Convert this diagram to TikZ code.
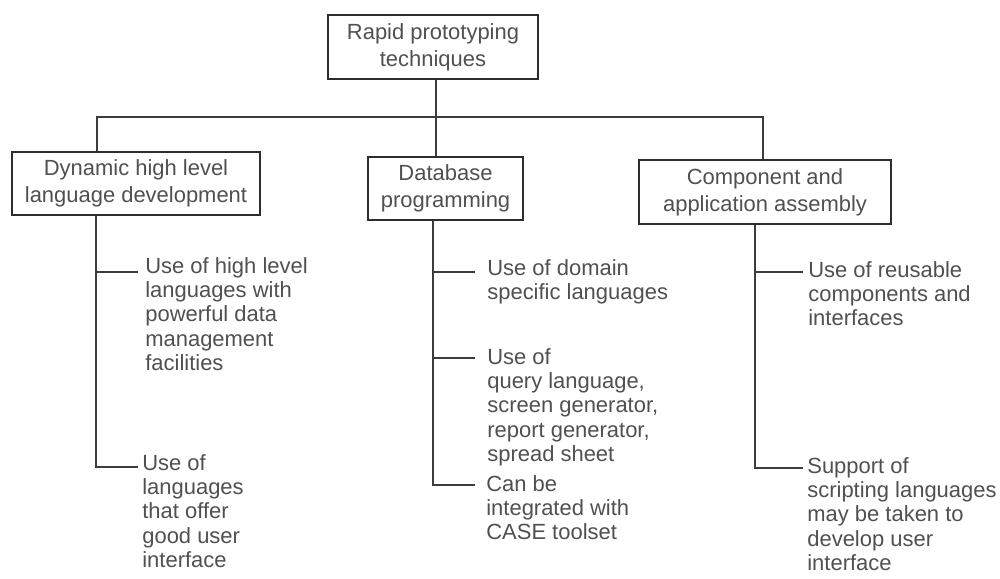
\documentclass[tikz,border=0pt]{standalone}
\usepackage{fontspec}
\setmainfont{Liberation Sans}
\definecolor{inkgray}{RGB}{80,80,80}
\definecolor{linegray}{RGB}{60,60,60}
\definecolor{boxgray}{RGB}{45,45,45}
\begin{document}
\begin{tikzpicture}[x=0.02cm,y=-0.02cm,
  box/.style={draw=boxgray, line width=1.6pt, align=center, inner sep=0pt,
    text=inkgray, font=\fontsize{12.5}{15.5}\selectfont},
  leaf/.style={anchor=base west, inner sep=0pt, text=inkgray,
    font=\fontsize{12.5}{13.9}\selectfont},
  link/.style={draw=linegray, line width=0.8pt}]
\useasboundingbox (0,0) rectangle (1000,578);

% top-level boxes
\node[box, minimum width=210*0.02cm, minimum height=64*0.02cm] (top) at (433,47)
  {Rapid prototyping\\techniques};
\node[box, minimum width=248*0.02cm, minimum height=63*0.02cm] (dyn) at (136,183.5)
  {Dynamic high level\\language development};
\node[box, minimum width=155*0.02cm, minimum height=63*0.02cm] (db) at (445.5,188.5)
  {Database\\programming};
\node[box, minimum width=252*0.02cm, minimum height=64*0.02cm] (comp) at (765,192)
  {Component and\\application assembly};

% bus linking the root to the three techniques
\coordinate (busL) at (97,117);
\coordinate (busR) at (763,117);
\coordinate (trunk) at (436,117);
\draw[link] (busL |- dyn.north) -- (busL) -- (busR) -- (busR |- comp.north);
\draw[link] (trunk |- top.south) -- (trunk |- db.north);

% leaves under "Dynamic high level language development"
\node[leaf] (d1) at (145,273) {\begin{tabular}[t]{@{}l@{}}Use of high level\\languages with\\powerful data\\management\\facilities\end{tabular}};
\node[leaf] (d2) at (142,470) {\begin{tabular}[t]{@{}l@{}}Use of\\languages\\that offer\\good user\\interface\end{tabular}};
\coordinate (spD) at (96,467);
\coordinate (d1b) at (138,272);
\coordinate (d2b) at (138,467);
\draw[link] (spD |- dyn.south) -- (spD) -- (d2b);
\draw[link] (spD |- d1b) -- (d1b);

% leaves under "Database programming"
\node[leaf] (b1) at (487,275) {\begin{tabular}[t]{@{}l@{}}Use of domain\\specific languages\end{tabular}};
\node[leaf] (b2) at (487,364) {\begin{tabular}[t]{@{}l@{}}Use of\\query language,\\screen generator,\\report generator,\\spread sheet\end{tabular}};
\node[leaf] (b3) at (486,491) {\begin{tabular}[t]{@{}l@{}}Can be\\integrated with\\CASE toolset\end{tabular}};
\coordinate (spB) at (433,485);
\coordinate (b1b) at (475,272);
\coordinate (b2b) at (475,358);
\coordinate (b3b) at (475,485);
\draw[link] (spB |- db.south) -- (spB) -- (b3b);
\draw[link] (spB |- b1b) -- (b1b);
\draw[link] (spB |- b2b) -- (b2b);

% leaves under "Component and application assembly"
\node[leaf] (c1) at (808,277) {\begin{tabular}[t]{@{}l@{}}Use of reusable\\components and\\interfaces\end{tabular}};
\node[leaf] (c2) at (807,473) {\begin{tabular}[t]{@{}l@{}}Support of\\scripting languages\\may be taken to\\develop user\\interface\end{tabular}};
\coordinate (spC) at (755,468);
\coordinate (c1b) at (803,272);
\coordinate (c2b) at (803,468);
\draw[link] (spC |- comp.south) -- (spC) -- (c2b);
\draw[link] (spC |- c1b) -- (c1b);
\end{tikzpicture}
\end{document}
